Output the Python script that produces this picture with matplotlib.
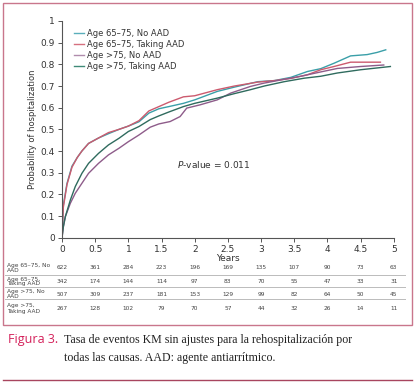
import matplotlib
matplotlib.use('Agg')
import matplotlib.pyplot as plt
import matplotlib.transforms as mtransforms
from matplotlib.patches import Rectangle
from matplotlib.lines import Line2D

# curve readings (years, probability)
t_65_no = [0, 0.02, 0.075, 0.15, 0.23, 0.30, 0.40, 0.55, 0.70, 0.86, 1.0, 1.16, 1.31, 1.46, 1.61, 1.83, 2.0, 2.34, 2.6, 2.95, 3.2, 3.45, 3.7, 3.9, 4.1, 4.35, 4.6, 4.75, 4.88]
p_65_no = [0, 0.15, 0.25, 0.33, 0.37, 0.40, 0.435, 0.46, 0.48, 0.50, 0.515, 0.535, 0.575, 0.595, 0.605, 0.62, 0.636, 0.675, 0.695, 0.72, 0.725, 0.74, 0.767, 0.78, 0.805, 0.839, 0.845, 0.855, 0.867]

t_65_aad = [0, 0.02, 0.075, 0.15, 0.23, 0.30, 0.40, 0.55, 0.70, 0.86, 1.0, 1.16, 1.31, 1.46, 1.61, 1.83, 2.0, 2.34, 2.6, 2.95, 3.2, 3.45, 3.7, 3.9, 4.1, 4.35, 4.6, 4.8]
p_65_aad = [0, 0.14, 0.245, 0.325, 0.37, 0.40, 0.435, 0.46, 0.485, 0.50, 0.515, 0.54, 0.585, 0.605, 0.625, 0.65, 0.655, 0.683, 0.70, 0.718, 0.725, 0.735, 0.752, 0.775, 0.79, 0.81, 0.81, 0.81]

t_75_no = [0, 0.02, 0.05, 0.126, 0.2, 0.30, 0.40, 0.55, 0.70, 0.86, 1.0, 1.16, 1.33, 1.46, 1.63, 1.78, 1.88, 2.08, 2.34, 2.54, 2.84, 3.04, 3.3, 3.6, 3.9, 4.15, 4.5, 4.85]
p_75_no = [0, 0.05, 0.097, 0.159, 0.205, 0.251, 0.297, 0.343, 0.382, 0.413, 0.443, 0.474, 0.51, 0.525, 0.536, 0.559, 0.598, 0.613, 0.636, 0.667, 0.698, 0.713, 0.728, 0.745, 0.765, 0.781, 0.79, 0.797]

t_75_aad = [0, 0.02, 0.05, 0.126, 0.2, 0.30, 0.40, 0.55, 0.70, 0.86, 1.0, 1.16, 1.33, 1.46, 1.61, 1.83, 2.0, 2.34, 2.6, 2.84, 3.05, 3.35, 3.65, 3.9, 4.15, 4.5, 4.95]
p_75_aad = [0, 0.05, 0.097, 0.174, 0.236, 0.297, 0.343, 0.389, 0.428, 0.459, 0.49, 0.513, 0.545, 0.562, 0.58, 0.605, 0.62, 0.644, 0.665, 0.683, 0.70, 0.72, 0.736, 0.745, 0.76, 0.775, 0.79]

labels = ['Age 65\u201375, No AAD', 'Age 65\u201375, Taking AAD', 'Age >75, No AAD', 'Age >75, Taking AAD']
colors = ['#3a9fa8', '#cc5a6e', '#8e5c8a', '#2f6b5e']
legend_colors = ['#5aaebb', '#d6707f', '#b08cad', '#3f8a78']

# number at risk
risk_times = [0, 0.5, 1, 1.5, 2, 2.5, 3, 3.5, 4, 4.5, 5]
risk_labels = ['Age 65\u201375, No\nAAD', 'Age 65\u201375,\nTaking AAD', 'Age >75, No\nAAD', 'Age >75,\nTaking AAD']
risk_65_no = [622, 361, 284, 223, 196, 169, 135, 107, 90, 73, 63]
risk_65_aad = [342, 174, 144, 114, 97, 83, 70, 55, 47, 33, 31]
risk_75_no = [507, 309, 237, 181, 153, 129, 99, 82, 64, 50, 45]
risk_75_aad = [267, 128, 102, 79, 70, 57, 44, 32, 26, 14, 11]

W, H = 416, 385
fig = plt.figure(figsize=(W / 100, H / 100), dpi=100)
ax = fig.add_axes([62 / W, 1 - 237.7 / H, 331.7 / W, 216.7 / H])

curves = [(t_65_no, p_65_no), (t_65_aad, p_65_aad), (t_75_no, p_75_no), (t_75_aad, p_75_aad)]
for (t, p), c in zip(curves, colors):
    ax.plot(t, p, color=c, lw=1.0)

ax.set_xlim(0, 5)
ax.set_ylim(0, 1)
ax.set_xticks(risk_times)
ax.set_xticklabels(['0', '0.5', '1', '1.5', '2', '2.5', '3', '3.5', '4', '4.5', '5'])
ax.set_yticks([0, 0.1, 0.2, 0.3, 0.4, 0.5, 0.6, 0.7, 0.8, 0.9, 1])
ax.set_yticklabels(['0', '0.1', '0.2', '0.3', '0.4', '0.5', '0.6', '0.7', '0.8', '0.9', '1'])
for s in ['top', 'right']:
    ax.spines[s].set_visible(False)
for s in ['left', 'bottom']:
    ax.spines[s].set_color('#555555')
    ax.spines[s].set_linewidth(0.8)
ax.tick_params(labelsize=6.5, length=3, width=0.7, color='#555555', labelcolor='#333333', pad=2)
ax.set_xlabel('Years', fontsize=6.5, color='#333333', labelpad=0)
ax.set_ylabel('Probability of hospitalization', fontsize=6, color='#333333', labelpad=3)

handles = [Line2D([], [], color=c, lw=1.0) for c in legend_colors]
ax.legend(handles, labels, loc='upper left', bbox_to_anchor=(0.015, 0.995), frameon=False,
          fontsize=6.0, handlelength=1.25, handletextpad=0.4, labelspacing=0.25,
          borderpad=0.3, labelcolor='#333333')

ax.text(1.73, 0.336, r'$\it{P}$-value = 0.011', fontsize=6.5, color='#333333', va='center')

# risk table
trans = mtransforms.blended_transform_factory(ax.transData, fig.transFigure)
rows = [risk_65_no, risk_65_aad, risk_75_no, risk_75_aad]
row_y = [267.5, 281.5, 294, 308.5]
for lab, vals, y in zip(risk_labels, rows, row_y):
    fig.text(7 / W, 1 - y / H, lab, fontsize=4.2, color='#444444', va='center', linespacing=1.0)
    for t, v in zip(risk_times, vals):
        ax.text(t, 1 - y / H, str(v), transform=trans, fontsize=4.2, color='#444444',
                ha='center', va='center', clip_on=False)
for y in [274.5, 286.5, 298.5]:
    fig.add_artist(Line2D([5 / W, 405 / W], [1 - y / H, 1 - y / H], color='#bbbbbb', lw=0.7))

# frame and caption
fig.add_artist(Rectangle((3 / W, 1 - 325 / H), 409 / W, 322 / H, fill=False,
                         edgecolor='#c9768c', lw=1.0, transform=fig.transFigure))
fig.add_artist(Line2D([3 / W, 412 / W], [1 - 379.5 / H, 1 - 379.5 / H], color='#a8455e', lw=1.0))

fig.text(8 / W, 1 - 340 / H, 'Figura 3.', fontsize=9, color='#d4205a', va='center',
         family='Open Sans')
fig.text(64 / W, 1 - 340 / H, 'Tasa de eventos KM sin ajustes para la rehospitalizaci\u00f3n por',
         fontsize=8.6, color='#222222', va='center', family='Liberation Serif')
fig.text(64 / W, 1 - 358 / H, 'todas las causas. AAD: agente antiarr\u00edtmico.',
         fontsize=8.6, color='#222222', va='center', family='Liberation Serif')

fig.savefig('out.png', dpi=100)
